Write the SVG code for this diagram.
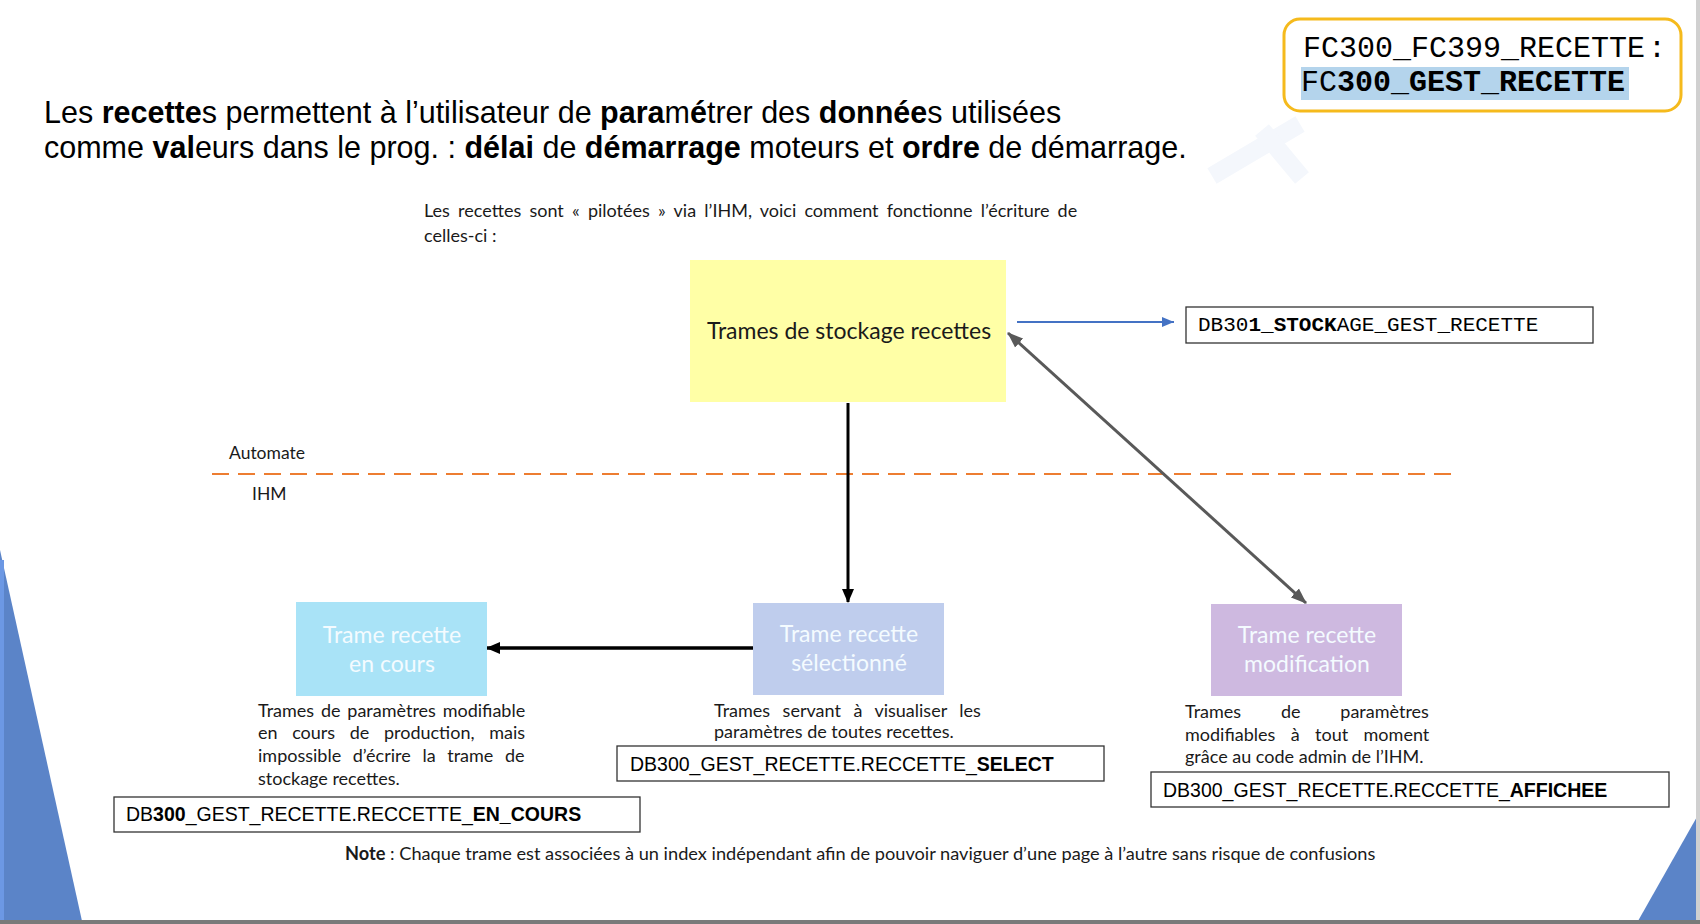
<svg xmlns="http://www.w3.org/2000/svg" width="1700" height="924" viewBox="0 0 1700 924">
<style>
  .title { font-family: "Liberation Sans", Arial, sans-serif; font-size: 30.5px; fill: #000; }
  .b { font-weight: bold; }
  .cal { font-family: Lato, "Open Sans", sans-serif; fill: #1a1a1a; }
  .small { font-size: 18px; }
  .mono { font-family: "Liberation Mono", "DejaVu Sans Mono", monospace; fill: #000; }
  .arial { font-family: "Liberation Sans", Arial, sans-serif; fill: #000; }
  .lbl { font-family: Lato, "Open Sans", sans-serif; font-size: 23px; fill: #F4FBFF; text-anchor: middle; }
  .dbbox { fill: #fff; stroke: #333; stroke-width: 1.3; }
</style>
<defs>
  <marker id="ahBlack" markerUnits="userSpaceOnUse" markerWidth="14" markerHeight="14" viewBox="0 0 14 14" refX="13" refY="7" orient="auto">
    <path d="M0,1 L14,7 L0,13 Z" fill="#000"/>
  </marker>
  <marker id="ahGray" markerUnits="userSpaceOnUse" markerWidth="16" markerHeight="14" viewBox="0 0 16 14" refX="15" refY="7" orient="auto-start-reverse">
    <path d="M0,1 L16,7 L0,13 Z" fill="#595959"/>
  </marker>
  <marker id="ahBlue" markerUnits="userSpaceOnUse" markerWidth="12" markerHeight="10" viewBox="0 0 12 10" refX="12" refY="5" orient="auto">
    <path d="M0,0 L12,5 L0,10 Z" fill="#4472C4"/>
  </marker>
</defs>

<rect x="0" y="0" width="1700" height="924" fill="#fff"/>

<!-- background decorations -->
<g id="decor">
  <g stroke="#F4F7FC" stroke-width="18" stroke-linecap="butt" fill="none">
    <line x1="1212" y1="176" x2="1300" y2="124"/>
    <line x1="1262" y1="130" x2="1302" y2="178"/>
  </g>
  <polygon points="0,550 82,921 0,921" fill="#5B84C8"/>
  <rect x="0" y="560" width="4" height="361" fill="#6C98E4"/>
  <polygon points="1698,815 1638,921 1698,921" fill="#5B84C8"/>
  <rect x="1696" y="0" width="4" height="924" fill="#D0D0D0"/>
  <rect x="0" y="920" width="1700" height="4" fill="#7A7A7A"/>
</g>

<!-- header -->
<g id="fc-box">
  <rect x="1284" y="19" width="397" height="92" rx="16" fill="#fff" stroke="#F5BA1C" stroke-width="3"/>
  <rect x="1301" y="67" width="328" height="33" fill="#B4D4EC"/>
  <text class="mono" x="1303" y="57" font-size="30">FC300_FC399_RECETTE<tspan dx="3">:</tspan></text>
  <text class="mono" x="1301" y="91" font-size="30">FC<tspan class="b">300_GEST_RECETTE</tspan></text>
</g>

<g id="title">
  <text class="title" x="44" y="123">Les <tspan class="b">recette</tspan>s permettent à l’utilisateur de <tspan class="b">para</tspan>m<tspan class="b">é</tspan>trer des <tspan class="b">donnée</tspan>s utilisées</text>
  <text class="title" x="44" y="158">comme <tspan class="b">val</tspan>eurs dans le prog. : <tspan class="b">délai</tspan> de <tspan class="b">démarrage</tspan> moteurs et <tspan class="b">ordre</tspan> de démarrage.</text>
</g>

<g id="intro">
  <text class="cal small" x="424" y="217" word-spacing="3.6">Les recettes sont « pilotées » via l’IHM, voici comment fonctionne l’écriture de</text>
  <text class="cal small" x="424" y="242">celles-ci :</text>
</g>

<!-- zone separator -->
<g id="separator">
  <line x1="212" y1="474" x2="1458" y2="474" stroke="#ED7D31" stroke-width="2.2" stroke-dasharray="17,9"/>
  <text class="cal" font-size="17.5" x="229" y="459">Automate</text>
  <text class="cal" font-size="17.5" x="252" y="500">IHM</text>
</g>

<!-- connectors -->
<g id="connectors">
  <line x1="1017" y1="322" x2="1174" y2="322" stroke="#4472C4" stroke-width="2" marker-end="url(#ahBlue)"/>
  <line x1="848" y1="403" x2="848" y2="602" stroke="#000" stroke-width="3" marker-end="url(#ahBlack)"/>
  <line x1="753" y1="648" x2="487" y2="648" stroke="#000" stroke-width="3.5" marker-end="url(#ahBlack)"/>
  <line x1="1008" y1="333" x2="1306" y2="603" stroke="#595959" stroke-width="3" marker-start="url(#ahGray)" marker-end="url(#ahGray)"/>
</g>

<!-- nodes -->
<g id="node-stockage">
  <rect x="690" y="260" width="316" height="142" fill="#FFFFA6"/>
  <text class="cal" x="849" y="339" font-size="23" text-anchor="middle" fill="#1a1a1a">Trames de stockage recettes</text>
</g>

<g id="db301">
  <rect class="dbbox" x="1186" y="307" width="407" height="36"/>
  <text class="mono" x="1198" y="331" font-size="21">DB30<tspan class="b">1_STOCK</tspan>AGE_GEST_RECETTE</text>
</g>

<g id="node-en-cours">
  <rect x="296" y="602" width="191" height="94" fill="#A9E3F7"/>
  <text class="lbl" x="392" y="643">Trame recette</text>
  <text class="lbl" x="392" y="672">en cours</text>
</g>

<g id="node-selectionne">
  <rect x="753" y="603" width="191" height="92" fill="#BFCDED"/>
  <text class="lbl" x="849" y="642">Trame recette</text>
  <text class="lbl" x="849" y="671">sélectionné</text>
</g>

<g id="node-modification">
  <rect x="1211" y="604" width="191" height="92" fill="#CEB9E0"/>
  <text class="lbl" x="1307" y="643">Trame recette</text>
  <text class="lbl" x="1307" y="672">modification</text>
</g>

<!-- descriptions -->
<g id="desc-en-cours">
  <text class="cal small" x="258" y="717" word-spacing="2.2">Trames de paramètres modifiable</text>
  <text class="cal small" x="258" y="739" word-spacing="10">en cours de production, mais</text>
  <text class="cal small" x="258" y="762" word-spacing="7">impossible d’écrire la trame de</text>
  <text class="cal small" x="258" y="785">stockage recettes.</text>
</g>

<g id="desc-selectionne">
  <text class="cal small" x="714" y="717" word-spacing="7.9">Trames servant à visualiser les</text>
  <text class="cal small" x="714" y="738">paramètres de toutes recettes.</text>
</g>

<g id="desc-modification">
  <text class="cal small" x="1185" y="718" word-spacing="35.2">Trames de paramètres</text>
  <text class="cal small" x="1185" y="741" word-spacing="10.8">modifiables à tout moment</text>
  <text class="cal small" x="1185" y="763">grâce au code admin de l’IHM.</text>
</g>

<g id="db-select">
  <rect class="dbbox" x="617" y="746" width="487" height="35"/>
  <text class="arial" x="630" y="771" font-size="19.5">DB300_GEST_RECETTE.RECCETTE_<tspan class="b">SELECT</tspan></text>
</g>

<g id="db-en-cours">
  <rect class="dbbox" x="114" y="797" width="526" height="35"/>
  <text class="arial" x="126" y="821" font-size="19.5">DB<tspan class="b">300</tspan>_GEST_RECETTE.RECCETTE_<tspan class="b">EN_COURS</tspan></text>
</g>

<g id="db-affichee">
  <rect class="dbbox" x="1151" y="772" width="518" height="35"/>
  <text class="arial" x="1163" y="797" font-size="19.5">DB300_GEST_RECETTE.RECCETTE_<tspan class="b">AFFICHEE</tspan></text>
</g>

<g id="note">
  <text class="cal" font-size="18.2" x="345" y="860"><tspan class="b">Note</tspan> : Chaque trame est associées à un index indépendant afin de pouvoir naviguer d’une page à l’autre sans risque de confusions</text>
</g>
</svg>
